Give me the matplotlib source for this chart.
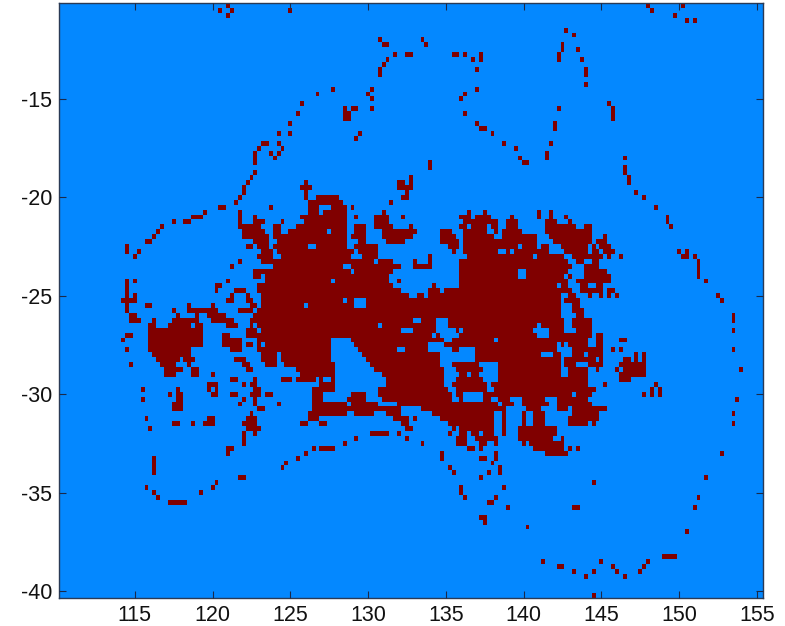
import numpy as np
import matplotlib
matplotlib.use("Agg")
import matplotlib.pyplot as plt
from matplotlib.colors import ListedColormap

plt.rcParams['font.family'] = ['Liberation Sans', 'DejaVu Sans']
plt.rcParams['axes.unicode_minus'] = False

# grid: lon = 110 + col * 0.25, lat = -10 - row * 0.25
LON0, LAT0, STEP = 110.0, -10.0, 0.25
N_COLS, N_ROWS = 181, 121

# each row lists inclusive column runs: start, end, start, end, ...
rows_north = {
    1: [44,44,152,152,161,161], 2: [42,42,45,45,60,60,153,153], 3: [44,44,159,159],
    4: [162,162,164,164], 6: [131,131], 7: [133,133], 8: [83,83,94,94],
    9: [84,85,95,95,130,130], 10: [130,130,134,134],
    11: [87,87,90,91,102,103,105,105,109,109,129,129],
    12: [85,85,107,107,109,109,129,129,135,135], 13: [84,84],
    14: [83,83,108,108,136,136], 15: [83,83,136,136], 17: [136,136],
    18: [71,71,81,81,108,108], 19: [67,67,80,80,105,105], 20: [81,81,104,104],
    21: [63,63,142,142], 22: [74,74,76,77,81,81,129,129,143,143],
    23: [62,62,74,75,105,105,143,143], 24: [74,75,143,143],
    25: [60,60,108,108,128,128], 26: [109,110,128,128],
    27: [57,57,60,60,78,78,112,112], 28: [77,77],
    29: [53,54,57,57,115,115,127,127], 30: [52,52,58,58,118,118],
    31: [51,51,55,55,57,57,126,126], 32: [51,51,56,56,119,119,126,126,146,146],
    33: [51,51,96,96,120,121], 34: [96,96,146,146], 35: [51,51,146,146],
    36: [50,50,91,91,147,147], 37: [49,49,64,64,88,89,91,91,147,147],
    38: [48,48,63,65,88,91], 39: [48,48,64,64,90,90,149,149],
    40: [47,47,64,64,67,72,89,90,151,151], 41: [46,46,65,73,86,86],
}
rows_upper_blob = {
    42: [42,43,55,55,65,67,71,74,76,76,154,154],
    43: [38,38,47,47,65,67,69,74,84,84,106,106,110,110,124,124,127,127],
    44: [35,37,47,47,51,51,63,74,77,77,82,85,89,89,104,106,108,111,117,117,124,124,127,127,131,131,157,157],
    45: [30,30,33,34,47,47,51,53,58,58,64,74,82,85,105,113,116,118,126,128,132,132,157,157],
    46: [27,27,47,52,56,57,62,74,77,79,82,86,91,91,104,105,107,110,112,113,116,118,126,133,136,137,158,158],
    47: [26,26,48,53,56,57,60,69,71,74,77,79,84,92,99,101,105,110,113,113,115,119,126,137],
    48: [25,25,48,54,56,74,76,79,84,91,99,102,105,112,115,123,127,137,141,141],
    49: [23,24,51,54,57,74,78,79,85,89,99,103,105,123,128,137,139,141],
    50: [18,18,49,50,52,54,56,64,67,74,77,82,101,103,105,118,120,123,125,126,130,136,138,138,140,142],
    51: [18,18,21,21,53,55,57,76,78,82,102,102,105,113,116,116,118,126,131,136,138,139,141,143,160,160,162,162],
    52: [20,20,52,55,58,75,79,82,96,96,106,122,124,130,133,140,142,142,145,145,161,162,164,164],
    53: [47,47,53,81,83,86,92,92,96,96,104,131,134,135,138,139,165,165],
    54: [45,45,56,73,76,88,92,96,104,132,136,139,165,165],
    55: [51,75,77,86,104,118,121,131,136,141,165,165],
    56: [51,52,54,85,104,118,121,130,132,132,136,142,165,165],
    57: [18,18,20,20,44,44,54,70,72,85,88,88,104,131,134,142,167,167],
    58: [18,18,41,42,52,86,97,97,104,128,130,131,135,136,139,140],
    59: [18,18,41,41,46,48,52,88,96,98,100,132,135,140,142,143],
    60: [18,18,20,20,45,45,49,49,53,90,93,94,96,129,132,133,137,137,140,140,142,142,144,144,170,170],
    61: [17,20,44,45,49,50,53,73,75,76,80,129,131,134,171,171],
    62: [18,18,23,24,34,34,40,40,50,51,53,63,65,76,80,129,133,134],
    63: [18,18,30,30,34,41,47,50,52,129,133,135],
    64: [19,20,31,31,36,36,39,43,51,129,134,135,174,174],
    65: [19,21,25,25,30,36,40,45,50,91,94,97,101,130,133,137,174,174],
    66: [24,25,29,34,36,37,44,46,50,50,52,82,84,97,101,123,125,130,133,137],
}
rows_lower_blob = {
    67: [24,37,49,51,53,88,92,97,103,103,105,122,127,130,134,137,174,174],
    68: [18,19,24,37,43,44,49,96,98,98,104,123,127,137,139,140],
    69: [17,17,24,37,43,47,52,70,76,99,102,112,114,136,139,140,145,146],
    70: [24,37,43,47,49,50,52,52,54,70,77,95,100,128,130,130,132,136,139,140],
    71: [18,18,24,34,45,47,52,70,78,87,90,95,102,103,108,128,133,140,143,143,145,145,174,174],
    72: [25,34,53,56,58,70,79,98,108,124,128,129,133,135,137,140,149,149,151,151],
    73: [26,31,33,35,46,48,53,56,58,70,80,98,108,129,131,138,140,140,146,147,149,149,151,151],
    74: [19,19,27,30,34,34,48,49,54,56,59,71,81,98,102,108,114,129,131,133,137,140,145,151],
    75: [28,32,35,36,49,50,62,71,82,99,103,109,114,129,132,136,139,139,144,144,146,151,176,176],
    76: [28,30,35,36,40,40,63,71,84,99,104,105,107,108,114,129,132,136,145,151],
    77: [45,46,51,51,58,60,62,66,68,68,71,71,85,99,103,109,114,136,145,147],
    78: [39,41,48,48,50,51,68,71,85,99,102,110,112,136,141,141,154,154],
    79: [22,22,31,31,39,39,41,41,51,52,66,71,83,100,103,110,113,138,153,153,155,155],
    80: [29,29,31,32,40,41,45,46,50,52,54,55,66,68,76,79,83,101,103,104,110,132,134,137,151,151,153,153,155,155],
    81: [22,22,31,32,48,48,51,51,66,68,75,79,84,101,104,104,110,111,114,116,120,125,129,136,175,175],
    82: [30,32,47,47,51,51,57,57,66,74,76,82,88,113,115,117,120,126,129,137],
    83: [30,32,52,53,66,88,94,115,121,124,129,131,133,141],
    84: [50,50,65,74,77,81,85,88,97,112,115,115,120,120,123,125,133,139,174,174],
    85: [23,23,39,40,49,51,65,67,87,90,92,92,99,112,115,115,120,120,123,125,132,139],
    86: [30,31,35,35,38,40,48,51,63,64,68,69,89,90,101,112,115,115,120,120,123,125,132,136,138,138,174,174],
    87: [24,24,49,52,90,91,102,102,104,112,115,115,119,128],
    88: [48,48,51,51,81,85,88,88,101,101,104,105,107,108,110,112,115,115,119,128],
    89: [48,48,77,77,90,90,103,105,108,113,119,127,130,130],
    90: [48,48,74,74,94,94,103,105,109,110,113,113,120,120,122,130],
}
rows_south = {
    91: [44,45,66,66,68,71,106,107,109,109,123,130,132,132,134,134],
    92: [44,44,64,64,99,99,113,113,126,131,171,171],
    93: [25,25,62,62,99,99,109,110,113,113],
    94: [25,25,59,59,112,112], 95: [25,25,58,58,101,101,114,114],
    96: [25,25,102,102,111,111,114,114], 97: [47,48,109,109,167,167],
    98: [41,41,138,138], 99: [23,23,40,40,104,104,115,115],
    100: [25,25,37,37,104,104], 101: [26,26,105,105,113,113,165,165],
    102: [29,33,111,112], 103: [116,116,133,134,164,164], 105: [109,110],
    106: [110,110], 107: [121,121], 108: [162,162], 113: [156,159],
    114: [125,125,140,140,152,152], 115: [129,130,143,143,151,151],
    116: [133,133,138,138,144,144,150,150], 117: [136,136,146,146], 121: [138,138],
}
x_ticks = [115, 120, 125, 130, 135, 140, 145, 150, 155]
y_ticks = [-15, -20, -25, -30, -35, -40]

mask = np.zeros((N_ROWS, N_COLS))
for band in (rows_north, rows_upper_blob, rows_lower_blob, rows_south):
    for row, runs in band.items():
        for start, end in zip(runs[0::2], runs[1::2]):
            mask[row - 1, start - 1:end] = 1

lon_edges = LON0 + (np.arange(N_COLS + 1) + 0.5) * STEP
lat_edges = LAT0 - (np.arange(N_ROWS + 1) + 0.5) * STEP

fig = plt.figure(figsize=(7.85, 6.26), dpi=100, facecolor='white')
ax = fig.add_axes([59 / 785, 1 - 598.3 / 626, (762.7 - 59) / 785, (598.3 - 3) / 626])
ax.pcolormesh(lon_edges, lat_edges, mask, cmap=ListedColormap(['#0488FF', '#800000']),
              vmin=0, vmax=1, shading='flat', linewidth=0, rasterized=True)
ax.set_xlim(lon_edges[0], lon_edges[-1])
ax.set_ylim(lat_edges[-1], lat_edges[0])
ax.set_xticks(x_ticks)
ax.set_yticks(y_ticks)
ax.tick_params(direction='in', top=True, right=True, length=5, width=0.8,
               color='#1a2a4a', labelsize=15.5, labelcolor='#111111', pad=5)
for s in ax.spines.values():
    s.set_linewidth(1.0)
    s.set_color('#2a3a55')
ax.set_axisbelow(False)
fig.savefig('out.png', dpi=100)
